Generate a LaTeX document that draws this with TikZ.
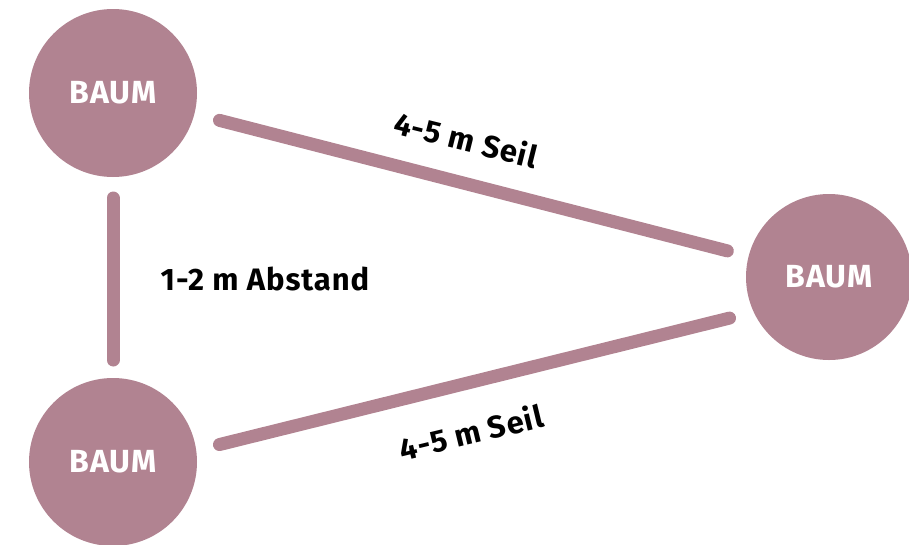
\documentclass[tikz,border=0pt]{standalone}
\usepackage{fontspec}
\setmainfont{Fira Sans}[LetterSpace=3]
\definecolor{mauve}{RGB}{177,131,145}
\tikzset{
	baum/.style={circle, fill=mauve, minimum size=168pt, inner sep=0pt, outer sep=0pt, text=white, font=\fontsize{32}{38}\selectfont\bfseries},
	seil/.style={draw=mauve, line width=13pt, line cap=round},
	hinweis/.style={font=\fontsize{31}{37}\selectfont\bfseries, inner sep=0pt}
}
\begin{document}
\begin{tikzpicture}[x=1pt, y=-1pt]
	\useasboundingbox (0,0) rectangle (909,544);
	\node[baum] (b1) at (113,93) {BAUM};
	\node[baum] (b2) at (113,462) {BAUM};
	\node[baum, minimum size=166pt] (b3) at (829,277) {BAUM};
	\draw[seil, shorten <=21pt, shorten >=18pt] (b1.south) -- (b2.north);
	\draw[seil, shorten <=26pt, shorten >=22pt] (b1) -- (b3);
	\draw[seil, shorten <=24pt, shorten >=25pt] (b2.8) -- (b3.205);
	\node[hinweis] (abstand) at (265,279) {1-2 m Abstand};
	\node[hinweis, rotate=-14] (seil1) at (466,139) {4-5 m Seil};
	\node[hinweis, rotate=13.6] (seil2) at (471,432) {4-5 m Seil};
\end{tikzpicture}
\end{document}
